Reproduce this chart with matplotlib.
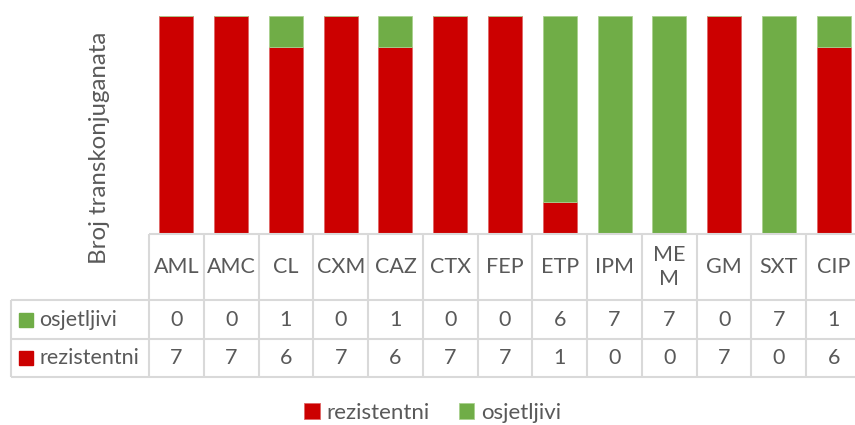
import matplotlib.pyplot as plt
from matplotlib.transforms import blended_transform_factory
from matplotlib.patches import Rectangle

# data
antibiotics = ["AML", "AMC", "CL", "CXM", "CAZ", "CTX", "FEP", "ETP", "IPM", "MEM", "GM", "SXT", "CIP"]
header_labels = ["AML", "AMC", "CL", "CXM", "CAZ", "CTX", "FEP", "ETP", "IPM", "ME\nM", "GM", "SXT", "CIP"]
rezistentni = [7, 7, 6, 7, 6, 7, 7, 1, 0, 0, 7, 0, 6]
osjetljivi = [0, 0, 1, 0, 1, 0, 0, 6, 7, 7, 0, 7, 1]

RED = "#CC0000"
GREEN = "#70AD47"
TXT = "#595959"
GRID = "#D9D9D9"

plt.rcParams["font.family"] = ["Lato", "DejaVu Sans"]

W, H = 855, 425
fig = plt.figure(figsize=(W / 100, H / 100), dpi=100)

# plot area in pixels
left_px, right_px = 149, 861
top_px, bot_px = 16, 233.5
ax = fig.add_axes([left_px / W, 1 - bot_px / H, (right_px - left_px) / W, (bot_px - top_px) / H])

x = list(range(len(antibiotics)))
b1 = ax.bar(x, rezistentni, width=0.62, color=RED, edgecolor="#E06666", linewidth=0.6, label="rezistentni")
b2 = ax.bar(x, osjetljivi, width=0.62, bottom=rezistentni, color=GREEN, edgecolor="#A9D18E",
            linewidth=0.6, label="osjetljivi")

ax.set_xlim(-0.5, len(antibiotics) - 0.5)
ax.set_ylim(0, 7)
ax.axis("off")

col_px = (right_px - left_px) / len(antibiotics)


def ay(py):
    # pixel row -> axes fraction
    return (bot_px - py) / (bot_px - top_px)


trans = blended_transform_factory(ax.transData, ax.transAxes)
x_left = -0.5 - (left_px - 11) / col_px
x_right = len(antibiotics) - 0.5

y_head_top, y_head_bot, y_row1, y_row2 = ay(234), ay(300), ay(339), ay(377)

lk = dict(color=GRID, lw=1.5, transform=trans, clip_on=False, solid_capstyle="butt")
ax.plot([-0.5, x_right], [y_head_top, y_head_top], **lk)
for yy in (y_head_bot, y_row1, y_row2):
    ax.plot([x_left, x_right], [yy, yy], **lk)
ax.plot([x_left, x_left], [y_head_bot, y_row2], **lk)
for i in range(len(antibiotics) + 1):
    ax.plot([i - 0.5, i - 0.5], [y_head_top, y_row2], **lk)

fs = 15.5
for i, lab in enumerate(header_labels):
    ax.text(i, ay(267), lab, ha="center", va="center", fontsize=fs, color=TXT,
            transform=trans, linespacing=1.3)
    ax.text(i, ay(320), str(osjetljivi[i]), ha="center", va="center", fontsize=fs, color=TXT, transform=trans)
    ax.text(i, ay(358), str(rezistentni[i]), ha="center", va="center", fontsize=fs, color=TXT, transform=trans)

# row labels with colour keys
for name, colr, py in (("osjetljivi", GREEN, 320), ("rezistentni", RED, 358)):
    fig.patches.append(Rectangle((19 / W, 1 - (py + 7) / H), 14 / W, 14 / H, color=colr,
                                 transform=fig.transFigure))
    fig.text(39 / W, 1 - py / H, name, ha="left", va="center", fontsize=fs, color=TXT)

fig.text(100 / W, 1 - 148 / H, "Broj transkonjuganata", rotation=90, ha="center", va="center",
         fontsize=17.3, color=TXT)

fig.legend(handles=[b1, b2], loc="center", bbox_to_anchor=(0.506, 1 - 413 / H), ncol=2,
           frameon=False, fontsize=16, labelcolor=TXT, handlelength=0.7, handleheight=0.7,
           handletextpad=0.3, columnspacing=1.3)

fig.savefig("out.png", dpi=100)
